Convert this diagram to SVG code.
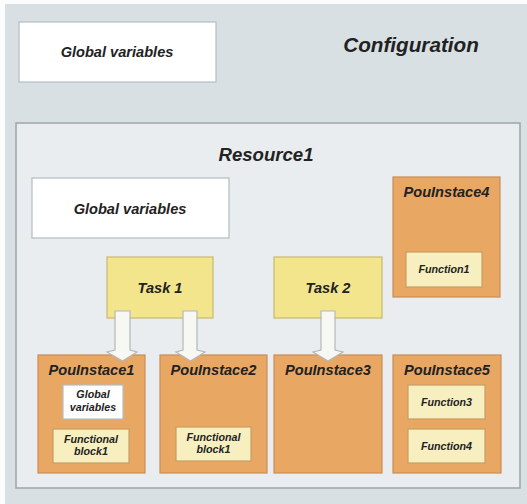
<svg xmlns="http://www.w3.org/2000/svg" width="527" height="504" viewBox="0 0 527 504">
<style>
text{font-family:"Liberation Sans",Arial,sans-serif;font-weight:bold;font-style:italic;fill:#222;text-anchor:middle}
.white{fill:#fff;stroke:#b4bcc2;stroke-width:1.2}
.pou{fill:#e9a764;stroke:#c98d55;stroke-width:1.2}
.task{fill:#f3e58c;stroke:#c8b872;stroke-width:1.2}
.inner{fill:#f8efc0;stroke:#c99d62;stroke-width:1.2}
.arrow{fill:#f7f7f3;stroke:#b5b8b8;stroke-width:1.2}
.big{font-size:14.6px}
.sm{font-size:10.7px}
</style>
<rect width="527" height="504" fill="#fbfcfc"/>
<g id="configuration">
<rect x="5" y="4" width="522" height="500" fill="#d9e0e4"/>
<text x="411" y="52" style="font-size:20.7px">Configuration</text>
</g>
<g id="config-global-variables">
<rect class="white" x="19" y="22" width="197" height="60"/>
<text class="big" x="117" y="57">Global variables</text>
</g>
<g id="resource1">
<rect x="16" y="123" width="504" height="365" fill="#e9edef" stroke="#9ba5ab" stroke-width="1.5"/>
<text x="266" y="161" style="font-size:18.6px">Resource1</text>
</g>
<g id="resource-global-variables">
<rect class="white" x="32" y="178" width="197" height="60"/>
<text class="big" x="130" y="214">Global variables</text>
</g>
<g id="task1">
<rect class="task" x="107" y="257" width="106" height="61"/>
<text class="big" x="160" y="293">Task 1</text>
</g>
<g id="task2">
<rect class="task" x="274" y="257" width="108" height="61"/>
<text class="big" x="328" y="293">Task 2</text>
</g>
<g id="pouinstace4">
<rect class="pou" x="393" y="177" width="107" height="120"/>
<text class="big" x="446.5" y="197">PouInstace4</text>
<rect class="inner" x="406" y="252" width="76" height="35"/>
<text class="sm" x="444" y="273">Function1</text>
</g>
<g id="pouinstace1">
<rect class="pou" x="38" y="355" width="107" height="118"/>
<text class="big" x="91.5" y="375">PouInstace1</text>
<rect class="white" x="63" y="385" width="60" height="34"/>
<text class="sm" x="93" y="398">Global</text>
<text class="sm" x="93" y="411">variables</text>
<rect class="inner" x="53" y="429" width="76" height="34"/>
<text class="sm" x="91" y="443">Functional</text>
<text class="sm" x="91" y="455">block1</text>
</g>
<g id="pouinstace2">
<rect class="pou" x="160" y="355" width="107" height="118"/>
<text class="big" x="213.5" y="375">PouInstace2</text>
<rect class="inner" x="176" y="427" width="75" height="34"/>
<text class="sm" x="213.5" y="441">Functional</text>
<text class="sm" x="213.5" y="453">block1</text>
</g>
<g id="pouinstace3">
<rect class="pou" x="274" y="355" width="108" height="118"/>
<text class="big" x="328" y="375">PouInstace3</text>
</g>
<g id="pouinstace5">
<rect class="pou" x="393" y="355" width="108" height="118"/>
<text class="big" x="447" y="375">PouInstace5</text>
<rect class="inner" x="408" y="385" width="77" height="34"/>
<text class="sm" x="446.5" y="406">Function3</text>
<rect class="inner" x="408" y="429" width="77" height="34"/>
<text class="sm" x="446.5" y="450">Function4</text>
</g>
<g id="connectors">
<polygon class="arrow" points="115,311 130,311 130,350 137,352 122.5,361 107,352 115,350"/>
<polygon class="arrow" points="183,311 197,311 197,350 205,352 190.5,361 176,352 183,350"/>
<polygon class="arrow" points="321,311 335,311 335,350 343,352 328,361 313,352 321,350"/>
</g>
</svg>
